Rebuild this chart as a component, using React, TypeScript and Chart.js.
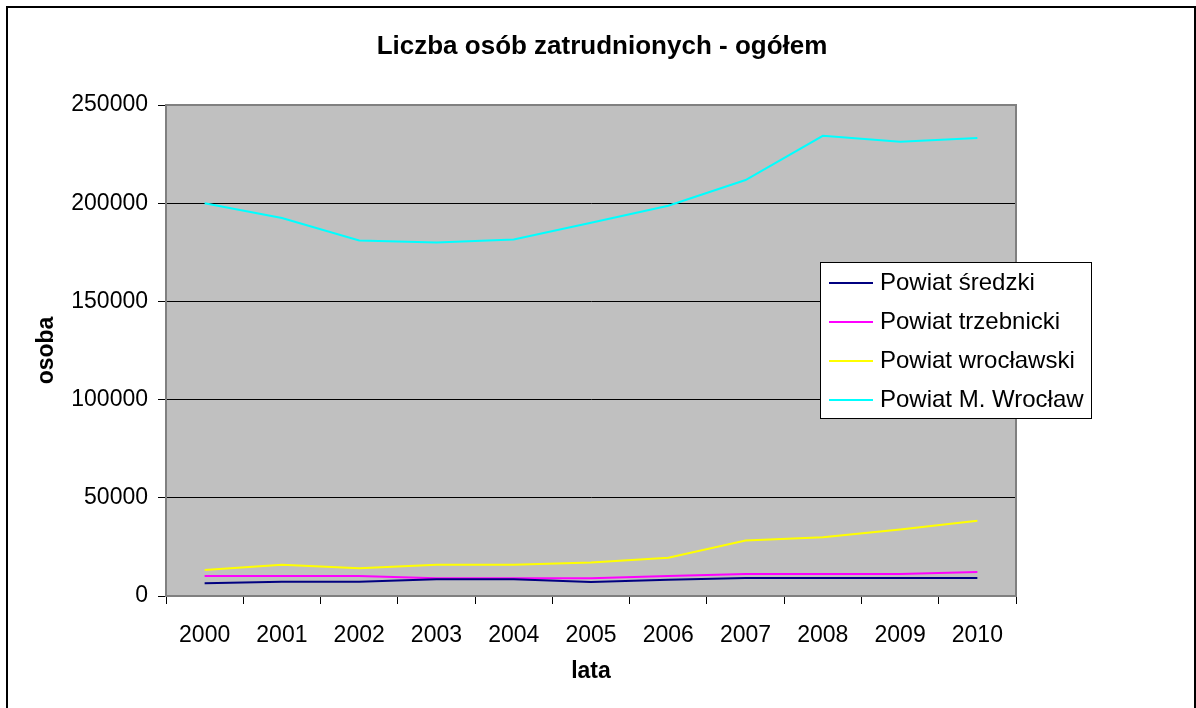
import React, { useEffect, useRef } from 'react';
import { Chart, registerables } from 'chart.js';

Chart.register(...registerables);

const years = ['2000', '2001', '2002', '2003', '2004', '2005', '2006', '2007', '2008', '2009', '2010'];
const seriesNames = ['Powiat średzki', 'Powiat trzebnicki', 'Powiat wrocławski', 'Powiat M. Wrocław'];
const seriesColors = ['#000080', '#FF00FF', '#FFFF00', '#00FFFF'];
const sredzki = [6500, 7300, 7300, 8500, 8500, 7100, 8300, 9200, 9200, 9200, 9200];
const trzebnicki = [10200, 10200, 10200, 9000, 9000, 9000, 10200, 11200, 11200, 11200, 12200];
const wroclawski = [13200, 15900, 14100, 15900, 15900, 17100, 19500, 28200, 29900, 33900, 38300];
const wroclaw = [200000, 192500, 181000, 180000, 181500, 190000, 198700, 211800, 234300, 231300, 233200];
const yMin = 0;
const yMax = 250000;
const yStep = 50000;

const titleText = 'Liczba osób zatrudnionych - ogółem';
const yTitle = 'osoba';
const xTitle = 'lata';

const FONT = "'Liberation Sans', Arial, sans-serif";

const framePlugin = {
  id: 'frame',
  beforeDraw(chart: any) {
    const { ctx, chartArea, width, height } = chart;
    ctx.save();
    ctx.fillStyle = '#ffffff';
    ctx.fillRect(0, 0, width, height);
    ctx.lineWidth = 2;
    ctx.strokeStyle = '#000000';
    ctx.strokeRect(7, 7, 1188, 720);
    ctx.fillStyle = '#C0C0C0';
    ctx.fillRect(chartArea.left, chartArea.top, chartArea.right - chartArea.left, chartArea.bottom - chartArea.top);
    ctx.restore();
  },
  beforeDatasetsDraw(chart: any) {
    const { ctx, chartArea } = chart;
    ctx.save();
    ctx.lineWidth = 2;
    ctx.strokeStyle = '#808080';
    ctx.strokeRect(chartArea.left, chartArea.top, chartArea.right - chartArea.left, chartArea.bottom - chartArea.top);
    ctx.restore();
  },
  afterDraw(chart: any) {
    const { ctx } = chart;
    ctx.save();
    ctx.fillStyle = '#000000';
    ctx.font = `bold 26px ${FONT}`;
    ctx.textAlign = 'center';
    ctx.textBaseline = 'middle';
    ctx.fillText(titleText, 602, 47);
    ctx.restore();
  },
};

const legendPlugin = {
  id: 'boxLegend',
  afterDraw(chart: any) {
    const { ctx } = chart;
    const x = 820, y = 262, w = 271, h = 156;
    ctx.save();
    ctx.fillStyle = '#ffffff';
    ctx.fillRect(x, y, w, h);
    ctx.lineWidth = 1;
    ctx.strokeStyle = '#000000';
    ctx.strokeRect(x + 0.5, y + 0.5, w, h);
    ctx.font = `24px ${FONT}`;
    ctx.textBaseline = 'middle';
    ctx.textAlign = 'left';
    chart.data.datasets.forEach((ds: any, i: number) => {
      const cy = y + 21 + i * 39;
      ctx.strokeStyle = ds.borderColor;
      ctx.lineWidth = 2;
      ctx.beginPath();
      ctx.moveTo(829, cy);
      ctx.lineTo(873, cy);
      ctx.stroke();
      ctx.fillStyle = '#000000';
      ctx.fillText(ds.label, 880, cy);
    });
    ctx.restore();
  },
};

export default function App() {
  const ref = useRef<HTMLCanvasElement>(null);
  useEffect(() => {
    document.body.style.margin = '0';
    const values = [sredzki, trzebnicki, wroclawski, wroclaw];
    const chart = new Chart(ref.current as HTMLCanvasElement, {
      type: 'line',
      data: {
        labels: years,
        datasets: seriesNames.map((name, i) => ({
          label: name,
          data: values[i],
          borderColor: seriesColors[i],
          backgroundColor: seriesColors[i],
          borderWidth: 2,
          pointRadius: 0,
          tension: 0,
          fill: false,
        })),
      },
      options: {
        animation: false,
        responsive: false,
        maintainAspectRatio: false,
        layout: { padding: { left: 8, right: 180, top: 105, bottom: 0 } },
        plugins: {
          legend: { display: false },
          tooltip: { enabled: false },
          title: { display: false },
        },
        scales: {
          x: {
            type: 'category',
            offset: true,
            grid: {
              display: true,
              drawOnChartArea: false,
              offset: true,
              drawTicks: true,
              tickLength: 8,
              color: '#000000',
            },
            border: { display: true, color: '#808080', width: 2 },
            ticks: {
              color: '#000000',
              font: { family: FONT, size: 23 },
              padding: 18,
              maxRotation: 0,
              autoSkip: false,
            },
            title: {
              display: true,
              text: xTitle,
              color: '#000000',
              font: { family: FONT, size: 23, weight: 'bold' },
              padding: { top: 0, bottom: 23 },
            },
            afterFit(scale: any) {
              scale.height = 112;
            },
          },
          y: {
            min: yMin,
            max: yMax,
            grid: {
              color: '#000000',
              lineWidth: 1,
              tickLength: 8,
              tickColor: '#000000',
            },
            border: { display: true, color: '#404040', width: 1 },
            ticks: {
              stepSize: yStep,
              color: '#000000',
              font: { family: FONT, size: 23 },
              padding: 10,
              callback: (v: any) => String(v),
            },
            title: {
              display: true,
              text: yTitle,
              color: '#000000',
              font: { family: FONT, size: 23, weight: 'bold' },
              padding: { top: 25, bottom: 0 },
            },
            afterFit(scale: any) {
              scale.width = 158;
            },
          },
        },
      },
      plugins: [framePlugin, legendPlugin],
    });
    return () => chart.destroy();
  }, []);
  return <canvas ref={ref} width={1196} height={708} style={{ display: 'block' }} />;
}
